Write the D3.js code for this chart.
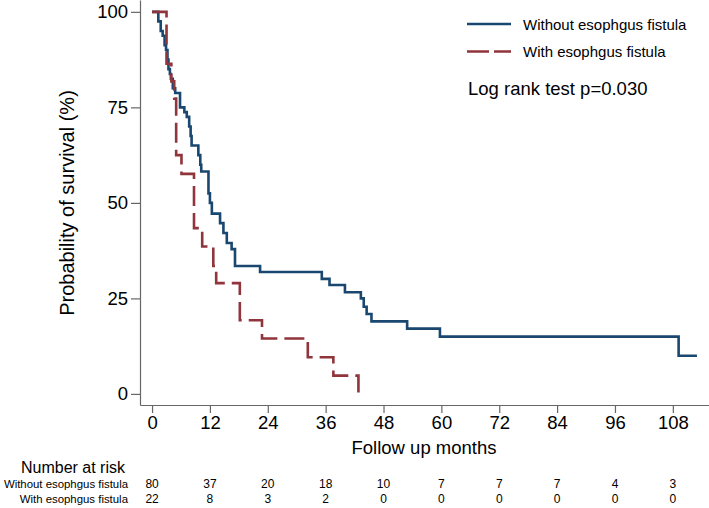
<!DOCTYPE html>
<html>
<head>
<meta charset="utf-8">
<script src="https://cdn.jsdelivr.net/npm/d3@7"></script>
<style>
  body { margin: 0; background: #fff; }
  svg text { font-family: "Liberation Sans", Arial, Helvetica, sans-serif; fill: #000; }
  .axis path, .axis line { stroke: #666; stroke-width: 1.2; }
  .axis text { font-size: 18.5px; }
</style>
</head>
<body>
<div id="chart"></div>
<script>
// Kaplan-Meier steps (months, % surviving)
var timeWithout = [0, 1.3, 1.8, 2.2, 2.6, 2.9, 3.2, 3.4, 3.7, 3.9, 4.3, 4.8, 5.8, 6.7, 7.2, 7.7, 8.0, 8.2, 9.6, 10.0, 10.2, 11.7, 12.0, 12.4, 14.1, 14.8, 15.5, 16.5, 17.2, 22.4, 35.2, 36.8, 40.0, 43.3, 43.9, 44.5, 45.5, 52.9, 59.7, 109.2, 113.0];
var survWithout = [100, 97.5, 95, 93.75, 91.25, 90, 87.5, 85, 83.75, 82.5, 80, 78.75, 75, 73.75, 72.5, 70, 67.5, 65, 62.5, 60, 58.2, 52.5, 50, 47.2, 44.7, 42.1, 39.5, 37.9, 33.5, 31.9, 30.1, 28.5, 26.6, 25.0, 22.8, 20.9, 19.0, 17.1, 15.0, 10.0, 10.0];

var timeWith = [0, 3.0, 4.0, 4.6, 5.0, 6.1, 8.7, 10.4, 12.7, 13.3, 18.2, 22.8, 32.3, 37.6, 42.8];
var survWith = [100, 86.4, 81.8, 77.3, 62.5, 57.6, 43.4, 38.6, 33.5, 29.0, 19.3, 14.5, 9.6, 4.8, 0];

var groups = ["Without esophgus fistula", "With esophgus fistula"];
var colors = ["#1a476f", "#90353b"];

var monthTicks = [0, 12, 24, 36, 48, 60, 72, 84, 96, 108];
var survTicks = [0, 25, 50, 75, 100];
var riskWithout = [80, 37, 20, 18, 10, 7, 7, 7, 4, 3];
var riskWith = [22, 8, 3, 2, 0, 0, 0, 0, 0, 0];

var width = 709;
var height = 508;

var svg = d3.select('#chart')
    .append('svg')
        .attr('width', width)
        .attr('height', height);

var x = d3.scaleLinear().domain([-2.5, 115.5]).range([140, 709]);
var y = d3.scaleLinear().domain([-2.9, 103.1]).range([405, 0]);

// axes
svg.append('g')
    .attr('class', 'axis')
    .attr('transform', 'translate(140,0)')
    .call(d3.axisLeft(y).tickValues(survTicks).tickSize(9).tickSizeOuter(0).tickPadding(3));

svg.append('g')
    .attr('class', 'axis')
    .attr('transform', 'translate(0,405)')
    .call(d3.axisBottom(x).tickValues(monthTicks).tickSize(8).tickSizeOuter(0).tickPadding(3));

svg.selectAll('.axis .domain').attr('stroke', '#666');

// axis titles
svg.append('text')
    .attr('transform', 'translate(74,203) rotate(-90)')
    .attr('text-anchor', 'middle')
    .style('font-size', '20px')
    .text('Probability of survival (%)');

svg.append('text')
    .attr('x', 424)
    .attr('y', 454)
    .attr('text-anchor', 'middle')
    .style('font-size', '18.5px')
    .text('Follow up months');

// curves
var line = d3.line()
    .x(d => x(d[0]))
    .y(d => y(d[1]))
    .curve(d3.curveStepAfter);

var series = [
    d3.zip(timeWithout, survWithout),
    d3.zip(timeWith, survWith)
];

svg.append('path')
    .datum(series[0])
    .attr('d', line)
    .attr('fill', 'none')
    .attr('stroke', colors[0])
    .attr('stroke-width', 2.6);

svg.append('path')
    .datum(series[1])
    .attr('d', line)
    .attr('fill', 'none')
    .attr('stroke', colors[1])
    .attr('stroke-width', 2.6)
    .attr('stroke-dasharray', '20,7');

// legend
var legend = svg.append('g')
    .attr('transform', 'translate(467,24)');

var legendRow = legend.selectAll('.legendRow')
    .data(groups)
    .enter()
    .append('g')
        .attr('class', 'legendRow')
        .attr('transform', (d, i) => 'translate(0,' + (i * 27.5) + ')');

legendRow.append('line')
    .attr('x1', 0)
    .attr('x2', 44)
    .attr('stroke', (d, i) => colors[i])
    .attr('stroke-width', 2.6)
    .attr('stroke-dasharray', (d, i) => i === 1 ? '22,5' : null);

legendRow.append('text')
    .attr('x', 56)
    .attr('y', 5.5)
    .style('font-size', '15px')
    .text(d => d);

svg.append('text')
    .attr('x', 468)
    .attr('y', 95)
    .style('font-size', '18.5px')
    .text('Log rank test p=0.030');

// number at risk table
svg.append('text')
    .attr('x', 125)
    .attr('y', 473)
    .attr('text-anchor', 'end')
    .style('font-size', '16px')
    .text('Number at risk');

var riskRows = [riskWithout, riskWith];

riskRows.forEach(function(row, r) {
    var ry = 488 + r * 15;
    svg.append('text')
        .attr('x', 128)
        .attr('y', ry)
        .attr('text-anchor', 'end')
        .style('font-size', '11.4px')
        .text(groups[r]);

    svg.selectAll('.risk' + r)
        .data(row)
        .enter()
        .append('text')
            .attr('class', 'risk' + r)
            .attr('x', (d, i) => x(monthTicks[i]))
            .attr('y', ry)
            .attr('text-anchor', 'middle')
            .style('font-size', '12px')
            .text(d => d);
});
</script>
</body>
</html>
